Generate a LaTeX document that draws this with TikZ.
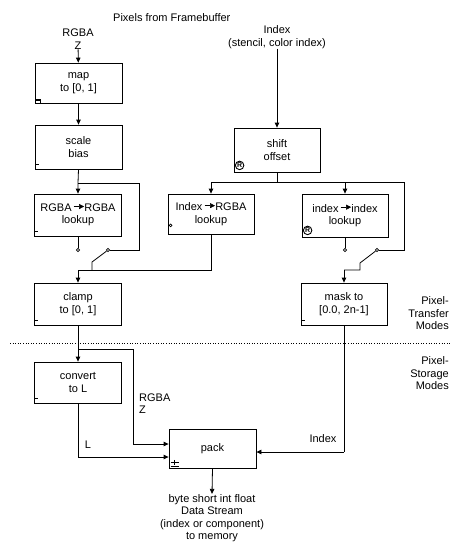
\documentclass[tikz,border=0pt]{standalone}
\usepackage{fontspec}
\setmainfont{Liberation Sans}
\usetikzlibrary{arrows.meta}
\tikzset{
  box/.style={draw, line width=0.8pt, minimum width=87pt, minimum height=42pt, inner sep=0pt, align=center, font=\fontsize{11}{12.5}\selectfont},
  lbl/.style={inner sep=0pt, align=center, font=\fontsize{11}{12.5}\selectfont},
  wire/.style={line width=0.8pt},
  arr/.style={wire, -{Triangle[length=5pt,width=4.5pt]}},
  contact/.style={circle, draw, line width=0.6pt, fill=white, minimum size=3.2pt, inner sep=0pt},
  regmark/.style={circle, draw, line width=0.9pt, inner sep=0pt, minimum size=8.5pt, font=\fontsize{7}{7}\selectfont\bfseries},
  markdash/.style={line width=1.8pt}
}
\newcommand{\rarr}{\tikz[baseline=-0.5ex]\draw[line width=0.5pt,-{Triangle[length=5pt,width=5pt]}] (0,0.35ex) -- (0.95em,0.35ex);}
\begin{document}
\begin{tikzpicture}[x=1pt,y=-1pt]
\useasboundingbox (0,0) rectangle (461,552);
% title
\node[lbl, anchor=west] (title) at (113,18) {Pixels from Framebuffer};
% inputs
\node[lbl] (rgbain) at (78,39) {RGBA\\Z};
\node[lbl] (idxin) at (277,37) {Index\\(stencil, color index)};
% boxes
\node[box, minimum height=40pt] (map) at (78.5,83) {map\\to [0, 1]};
\node[box, minimum height=44pt] (scale) at (78.5,147) {scale\\bias};
\node[box] (rgbalut) at (78,215) {RGBA\,\rarr RGBA\\lookup};
\node[box, minimum width=86pt, minimum height=40pt] (irgbalut) at (211,214) {Index\,\rarr RGBA\\lookup};
\node[box, minimum width=86pt, minimum height=44pt] (shift) at (277,150) {shift\\offset};
\node[box, minimum width=86pt, minimum height=43pt] (iidxlut) at (345,215.5) {index\,\rarr index\\lookup};
\node[box] (clamp) at (78,304) {clamp\\to [0, 1]};
\node[box, minimum width=86pt] (mask) at (344,304) {mask to\\{}[0.0, 2n-1]};
\node[box, minimum height=41pt] (convert) at (78,382.5) {convert\\to L};
\node[box, minimum height=39pt] (pack) at (212.5,448.5) {pack};
\node[lbl] (out) at (212,518) {byte short int float\\Data Stream\\(index or component)\\to memory};
% side labels
\node[lbl, align=right, anchor=east] (ptm) at (449,313.5) {Pixel-\\Transfer\\Modes};
\node[lbl, align=right, anchor=east] (psm) at (449,373.5) {Pixel-\\Storage\\Modes};
\node[lbl, anchor=west, align=left] (rgbaz) at (139,403.5) {RGBA\\Z};
\node[lbl] (llbl) at (88,445) {L};
\node[lbl] (idxlbl) at (323,439) {Index};
% coordinates
\coordinate (b1) at (78,183);
\coordinate (b1r) at (139,183);
\coordinate (b1d) at (139,250);
\node[contact] (c1l) at (78,250) {};
\node[contact] (c1r) at (108,250) {};
\coordinate (s1a) at (92,262);
\coordinate (s1b) at (92,270);
\coordinate (j1) at (78,270);
\coordinate (j1r) at (211,270);
\coordinate (b2) at (277,182);
\coordinate (b2l) at (211,182);
\coordinate (b2m) at (345,182);
\coordinate (b2r) at (404,182);
\coordinate (b2d) at (404,250);
\node[contact] (c2l) at (345,250) {};
\node[contact] (c2r) at (377,250) {};
\coordinate (s2a) at (360,263);
\coordinate (s2b) at (360,270);
\coordinate (j2) at (344,270);
\coordinate (b3) at (78,349);
\coordinate (b3r) at (133,349);
\coordinate (b3d) at (133,444);
\coordinate (b4) at (78,457);
\coordinate (b5) at (344,452);
\coordinate (dl) at (10,343);
\coordinate (dr) at (451,343);
% connectors left column
\draw[arr] (rgbain) -- (map);
\draw[arr] (map) -- (scale);
\draw[arr] (scale.south) -- (b1) -- (rgbalut.north);
\draw[wire] (b1) -- (b1r) -- (b1d) -- (c1r);
\draw[wire] (rgbalut.south) -- (c1l);
\draw[wire] (c1r) -- (s1a) -- (s1b);
\draw[wire] (irgbalut.south) -- (j1r) -- (j1);
\draw[arr] (j1) -- (clamp.north);
% right column
\draw[arr] (idxin) -- (shift);
\draw[wire] (shift.south) -- (b2);
\draw[wire] (b2l) -- (b2r);
\draw[arr] (b2l) -- (irgbalut.north);
\draw[arr] (b2m) -- (iidxlut.north);
\draw[wire] (b2r) -- (b2d) -- (c2r);
\draw[wire] (iidxlut.south) -- (c2l);
\draw[wire] (c2r) -- (s2a) -- (s2b) -- (j2);
\draw[arr] (j2) -- (mask.north);
% lower part
\draw[arr] (clamp.south) -- (convert.north);
\draw[wire] (b3) -- (b3r) -- (b3d);
\draw[arr] (b3d) -- (pack.west |- b3d);
\draw[wire] (convert.south) -- (b4);
\draw[arr] (b4) -- (pack.west |- b4);
\draw[wire] (mask.south) -- (b5);
\draw[arr] (b5) -- (pack.east |- b5);
\draw[arr] (pack.south) -- (out.north);
% dotted separator
\draw[line width=0.6pt, dotted] (dl) -- (dr);
% markers
\draw[line width=1.2pt] ([shift={(1,-3.5)}]map.south west) -- ++(4.5,0) -- ++(0,3.5);
\draw[markdash] ([shift={(1,-5)}]scale.south west) -- ++(3,0);
\draw[markdash] ([shift={(1,-5)}]rgbalut.south west) -- ++(3,0);
\draw[markdash] ([shift={(1,-5)}]clamp.south west) -- ++(3,0);
\draw[markdash] ([shift={(1,-5)}]mask.south west) -- ++(3,0);
\draw[markdash] ([shift={(1,-5)}]convert.south west) -- ++(3,0);
\draw[line width=0.6pt] ([shift={(3,-9)}]irgbalut.south west) circle (1.4pt);
\node[regmark] (r1) at ([shift={(6,-7)}]shift.south west) {R};
\node[regmark] (r2) at ([shift={(6,-7)}]iidxlut.south west) {R};
\draw[line width=1pt] ([shift={(2,-6)}]pack.south west) -- ++(8,0);
\draw[line width=1pt] ([shift={(6,-8.5)}]pack.south west) -- ++(0,5);
\draw[line width=0.6pt] ([shift={(2,-2)}]pack.south west) -- ++(8,0);
\end{tikzpicture}
\end{document}
